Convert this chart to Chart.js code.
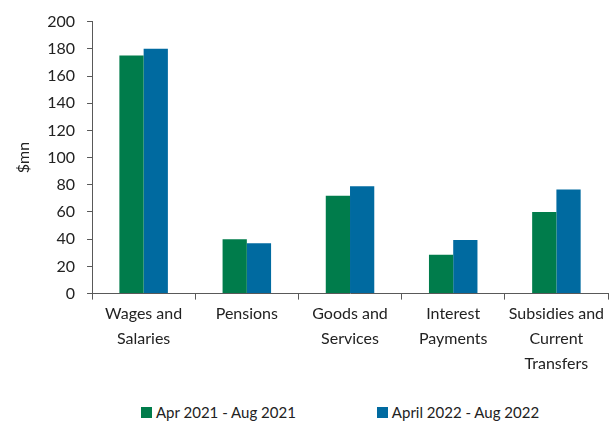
<!DOCTYPE html>
<html lang="en">
<head>
    <meta charset="UTF-8">
    <title>Expenditure by category</title>
    <style>
        body {
            margin: 0;
            background: #ffffff;
            font-family: 'Lato', sans-serif;
        }
        .wrap {
            position: relative;
            width: 611px;
            height: 421px;
        }
        .chart-box {
            position: absolute;
            left: 0;
            top: 0;
            width: 611px;
            height: 378px;
        }
        .legend {
            position: absolute;
            left: 141px;
            top: 403px;
            display: flex;
            font-size: 15px;
            color: #222;
        }
        .legend span.item { display: flex; align-items: center; }
        .legend span.item + span.item { margin-left: 81px; }
        .legend i {
            display: inline-block;
            width: 11px;
            height: 11px;
            margin-right: 4px;
        }
    </style>
    <script src="https://cdn.jsdelivr.net/npm/chart.js@4/dist/chart.umd.min.js"></script>
</head>
<body>
<div class="wrap">
    <div class="chart-box"><canvas id="chart"></canvas></div>
    <div class="legend" id="legend"></div>
</div>
<script>
    const categories = [
        ['Wages and', 'Salaries'],
        ['Pensions'],
        ['Goods and', 'Services'],
        ['Interest', 'Payments'],
        ['Subsidies and', 'Current', 'Transfers']
    ];
    const seriesNames = ['Apr 2021 - Aug 2021', 'April 2022 - Aug 2022'];
    const values2021 = [175, 40, 72, 28.5, 60];
    const values2022 = [180, 37, 79, 39.5, 76.5];
    const yTicks = [0, 20, 40, 60, 80, 100, 120, 140, 160, 180, 200];

    const colors = ['#007c4b', '#006aa0'];
    const axisColor = '#595959';
    const textColor = '#222222';

    // legend lives below the canvas so the gap between items can match
    const legend = document.getElementById('legend');
    seriesNames.forEach((name, i) => {
        const item = document.createElement('span');
        item.className = 'item';
        item.innerHTML = '<i style="background:' + colors[i] + '"></i>' + name;
        legend.appendChild(item);
    });

    new Chart(document.getElementById('chart'), {
        type: 'bar',
        data: {
            labels: categories,
            datasets: [
                { label: seriesNames[0], data: values2021, backgroundColor: colors[0] },
                { label: seriesNames[1], data: values2022, backgroundColor: colors[1] }
            ]
        },
        options: {
            responsive: true,
            maintainAspectRatio: false,
            animation: false,
            layout: { padding: { top: 14, right: 3, left: 14 } },
            datasets: {
                bar: { barPercentage: 1, categoryPercentage: 0.47 }
            },
            plugins: {
                legend: { display: false },
                tooltip: { enabled: false }
            },
            scales: {
                x: {
                    grid: {
                        offset: true,
                        drawOnChartArea: false,
                        drawTicks: true,
                        tickLength: 6,
                        color: axisColor
                    },
                    border: { display: true, color: axisColor, width: 1 },
                    ticks: {
                        color: textColor,
                        font: { family: 'Lato', size: 16, lineHeight: 1.55 },
                        padding: 2,
                        maxRotation: 0,
                        autoSkip: false
                    }
                },
                y: {
                    min: yTicks[0],
                    max: yTicks[yTicks.length - 1],
                    afterBuildTicks: (axis) => { axis.ticks = yTicks.map(v => ({ value: v })); },
                    grid: {
                        drawOnChartArea: false,
                        drawTicks: true,
                        tickLength: 5,
                        color: axisColor
                    },
                    border: { display: true, color: axisColor, width: 1 },
                    ticks: {
                        color: textColor,
                        font: { family: 'Lato', size: 16 },
                        padding: 12
                    },
                    title: {
                        display: true,
                        text: '$mn',
                        color: textColor,
                        font: { family: 'Lato', size: 16 },
                        padding: { top: 0, bottom: 2 }
                    }
                }
            }
        }
    });
</script>
</body>
</html>
